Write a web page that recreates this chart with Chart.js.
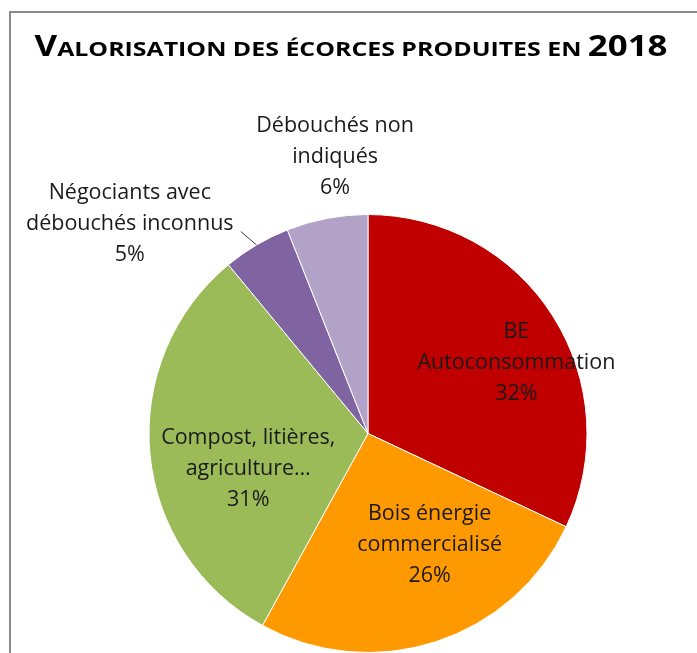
<!DOCTYPE html>
<html>
<head>
<meta charset="utf-8">
<script src="https://cdn.jsdelivr.net/npm/chart.js@4/dist/chart.umd.min.js"></script>
<style>
  html, body { margin: 0; padding: 0; background: #fff; overflow: hidden; }
  #wrap { width: 697px; height: 653px; position: relative; }
</style>
</head>
<body>
<div id="wrap"><canvas id="pieChart" width="697" height="653"></canvas></div>
<script>
// données
const titre = 'Valorisation des écorces produites en 2018';
const categories = [
    ['BE', 'Autoconsommation'],
    ['Bois énergie', 'commercialisé'],
    ['Compost, litières,', 'agriculture…'],
    ['Négociants avec', 'débouchés inconnus'],
    ['Débouchés non', 'indiqués']
];
const valeurs = [32, 26, 31, 5, 6];
const couleurs = ['#C00000', '#FF9900', '#9BBB59', '#8064A2', '#B3A2C7'];

const FONT = '"Open Sans", "Noto Sans", sans-serif';
const FONT_TITRE = '"Liberation Sans Narrow", "Open Sans", sans-serif';

// position des étiquettes : facteur de rayon + décalage d'angle (degrés)
const placeEtiq = [
    { f: 0.75, da: 7 },
    { f: 0.58, da: -11 },
    { f: 0.57, da: -11 },
    { f: 1.45, da: -18 },
    { f: 1.27, da: 4 }
];

// cadre gris + titre en petites capitales
const cadrePlugin = {
    id: 'cadre',
    beforeDraw(chart) {
        const c = chart.ctx;
        c.save();
        c.fillStyle = '#fff';
        c.fillRect(0, 0, chart.width, chart.height);
        c.fillStyle = '#8a8a8a';
        c.fillRect(9, 11, 2, chart.height);
        c.fillRect(9, 11, chart.width, 2);
        c.restore();
    },
    afterDraw(chart) {
        const c = chart.ctx;
        const big = 28, small = 20;
        // petites capitales : majuscules et chiffres en grand, le reste en petit
        const parts = [];
        for (const ch of titre) {
            const grand = /[A-Z0-9ÉÈ]/.test(ch);
            const s = grand ? big : small;
            const last = parts[parts.length - 1];
            if (last && last.s === s) last.t += ch.toUpperCase();
            else parts.push({ t: ch.toUpperCase(), s: s });
        }
        c.save();
        c.textBaseline = 'alphabetic';
        c.fillStyle = '#000';
        let total = 0;
        for (const p of parts) {
            c.font = 'bold ' + p.s + 'px ' + FONT_TITRE;
            p.w = c.measureText(p.t).width;
            total += p.w;
        }
        const cible = 633;
        const sx = cible / total;
        c.translate(351 - cible / 2, 56);
        c.scale(sx, 1);
        let x = 0;
        for (const p of parts) {
            c.font = 'bold ' + p.s + 'px ' + FONT_TITRE;
            c.fillText(p.t, x, 0);
            x += p.w;
        }
        c.restore();
    }
};

// étiquettes de données
const etiquettesPlugin = {
    id: 'etiquettes',
    afterDatasetsDraw(chart) {
        const c = chart.ctx;
        const arcs = chart.getDatasetMeta(0).data;
        const somme = valeurs.reduce((a, b) => a + b, 0);
        c.save();
        c.font = '21.5px ' + FONT;
        c.fillStyle = '#1a1a1a';
        c.textAlign = 'center';
        c.textBaseline = 'middle';
        arcs.forEach((arc, i) => {
            const mid = (arc.startAngle + arc.endAngle) / 2;
            const a = mid + placeEtiq[i].da * Math.PI / 180;
            const r = arc.outerRadius * placeEtiq[i].f;
            const x = arc.x + Math.cos(a) * r;
            const y = arc.y + Math.sin(a) * r;
            const lignes = categories[i].concat([Math.round(valeurs[i] / somme * 100) + '%']);
            const lh = 31;
            lignes.forEach((l, k) => {
                c.fillText(l, x, y + (k - 1) * lh);
            });
            // ligne de rappel pour la petite part
            if (i === 3) {
                c.strokeStyle = '#404040';
                c.lineWidth = 1;
                c.beginPath();
                c.moveTo(x + 111, y + 8);
                c.lineTo(arc.x + Math.cos(mid) * arc.outerRadius, arc.y + Math.sin(mid) * arc.outerRadius);
                c.stroke();
            }
        });
        c.restore();
    }
};

new Chart(document.getElementById('pieChart'), {
    type: 'pie',
    data: {
        labels: categories.map(l => l.join(' ')),
        datasets: [{
            data: valeurs,
            backgroundColor: couleurs,
            borderColor: '#ffffff',
            borderWidth: 1
        }]
    },
    options: {
        responsive: false,
        animation: false,
        layout: { padding: { left: 148, right: 109, top: 214, bottom: 0 } },
        plugins: {
            legend: { display: false },
            tooltip: { enabled: false },
            title: { display: false }
        }
    },
    plugins: [cadrePlugin, etiquettesPlugin]
});
</script>
</body>
</html>
